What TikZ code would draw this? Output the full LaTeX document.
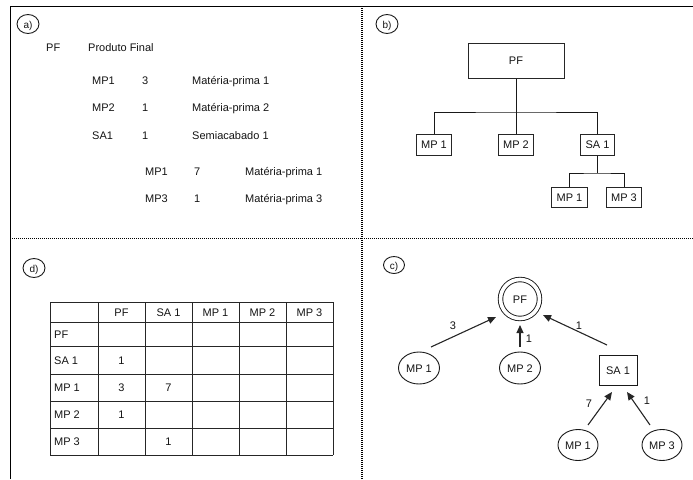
\documentclass[tikz,border=0pt]{standalone}
\usepackage{fontspec}
\setmainfont{Liberation Sans}
\usetikzlibrary{arrows.meta,shapes.geometric}
\begin{document}
\begin{tikzpicture}[x=1pt,y=-1pt,
  every node/.style={inner sep=0pt, text height=8pt, text depth=0pt,
    font=\fontsize{11}{13}\selectfont, text=black!92},
  txt/.style={anchor=west},
  lbl/.style={ellipse, draw=black!90, line width=0.9pt, minimum width=22pt, minimum height=19pt,
    font=\fontsize{10}{12}\selectfont},
  bbox/.style={draw=black!85, line width=1pt, minimum height=21pt, inner xsep=5pt},
  tline/.style={draw=black!90, line width=1pt},
  ell/.style={ellipse, draw=black!90, line width=0.9pt, minimum width=41pt, minimum height=32pt},
  arr/.style={-{Triangle[length=8pt,width=7pt]}, line width=1.1pt, draw=black!85},
  dots/.style={draw=black, line width=1.2pt, dash pattern=on 1pt off 1pt},
  grid/.style={draw=black!85, line width=1pt}]
\useasboundingbox (0,0) rectangle (693,479);
% frame
\draw[line width=1pt] (10,479) -- (10,6) -- (693,6);
\draw[dots] (10,238.5) -- (693,238.5);
\draw[dots] (362,6) -- (362,479);
% labels
\node[lbl] (la) at (28,24) {a)};
\node[lbl] (lb) at (387,24) {b)};
\node[lbl] (ld) at (34,268) {d)};
\node[lbl, minimum width=21pt, minimum height=17pt] (lc) at (394,265) {c)};
% panel a
\node[txt] (a-pf) at (46,47) {PF};
\node[txt] (a-pfd) at (88,47) {Produto Final};
\node[txt] (a-mp1) at (92,80) {MP1};
\node[txt] (a-q1) at (142,80) {3};
\node[txt] (a-d1) at (192,80) {Matéria-prima 1};
\node[txt] (a-mp2) at (92,107.5) {MP2};
\node[txt] (a-q2) at (142,107.5) {1};
\node[txt] (a-d2) at (192,107.5) {Matéria-prima 2};
\node[txt] (a-sa1) at (92,135) {SA1};
\node[txt] (a-q3) at (142,135) {1};
\node[txt] (a-d3) at (192,135) {Semiacabado 1};
\node[txt] (a-mp1s) at (145,171) {MP1};
\node[txt] (a-q4) at (194,171) {7};
\node[txt] (a-d4) at (245,171) {Matéria-prima 1};
\node[txt] (a-mp3s) at (145,198) {MP3};
\node[txt] (a-q5) at (194,198) {1};
\node[txt] (a-d5) at (245,198) {Matéria-prima 3};
% panel b
\node[bbox, minimum width=96pt, minimum height=35pt] (b-pf) at (516,60.5) {PF};
\node[bbox] (b-mp1) at (434,144.5) {MP 1};
\node[bbox] (b-mp2) at (516,144.5) {MP 2};
\node[bbox] (b-sa1) at (597.5,144.5) {SA 1};
\node[bbox, minimum height=20pt] (b-mp1s) at (569.5,197) {MP 1};
\node[bbox, minimum height=20pt] (b-mp3s) at (624,197) {MP 3};
\coordinate (b-bus) at (516,112);
\coordinate (b-bus2) at (597.5,173);
\draw[tline] (b-pf.south) -- (b-bus);
\draw[tline] (b-mp1.north) |- (b-bus) -| (b-sa1.north);
\draw[tline] (b-bus) -- (b-mp2.north);
\draw[tline] (b-sa1.south) -- (b-bus2);
\draw[tline] (b-mp1s.north) |- (b-bus2) -| (b-mp3s.north);
% panel d table
\foreach \yy in {302,322,346,374,401,428,455} \draw[grid] (50,\yy) -- (333,\yy);
\foreach \xx in {50,98,145,192,239,286,333} \draw[grid] (\xx,302) -- (\xx,455);
\node (d-h1) at (121.5,312) {PF};
\node (d-h2) at (168.5,312) {SA 1};
\node (d-h3) at (215.5,312) {MP 1};
\node (d-h4) at (262.5,312) {MP 2};
\node (d-h5) at (309.5,312) {MP 3};
\node[txt] (d-r1) at (54,334) {PF};
\node[txt] (d-r2) at (54,360) {SA 1};
\node[txt] (d-r3) at (54,387.5) {MP 1};
\node[txt] (d-r4) at (54,414.5) {MP 2};
\node[txt] (d-r5) at (54,441.5) {MP 3};
\node (d-v1) at (121.5,360) {1};
\node (d-v2) at (121.5,387.5) {3};
\node (d-v3) at (168.5,387.5) {7};
\node (d-v4) at (121.5,414.5) {1};
\node (d-v5) at (168.5,441.5) {1};
% panel c
\node[circle, draw=black!90, line width=0.9pt, double, double distance=3.6pt, minimum size=39pt] (c-pf) at (520,299) {PF};
\node[ell] (c-mp1) at (419,368) {MP 1};
\node[ell] (c-mp2) at (520,368) {MP 2};
\node[draw=black!90, line width=1pt, minimum width=38pt, minimum height=30pt] (c-sa1) at (618,370) {SA 1};
\node[ell, minimum width=40pt, minimum height=31pt] (c-mp1s) at (578,445) {MP 1};
\node[ell, minimum width=40pt, minimum height=31pt] (c-mp3s) at (662,445) {MP 3};
\draw[arr] ([shift={(12,-21)}]c-mp1.center) -- ([shift={(-24,18)}]c-pf.center);
\draw[arr] ([shift={(0,-21)}]c-mp2.center) -- ([shift={(0,26)}]c-pf.center);
\draw[arr] ([shift={(-11,-25)}]c-sa1.center) -- ([shift={(23,16)}]c-pf.center);
\draw[arr] ([shift={(10,-20)}]c-mp1s.center) -- ([shift={(-6,22)}]c-sa1.center);
\draw[arr] ([shift={(-12,-20)}]c-mp3s.center) -- ([shift={(9,22)}]c-sa1.center);
\node (c-l1) at (453,325) {3};
\node (c-l2) at (529,338) {1};
\node (c-l3) at (579,325) {1};
\node (c-l4) at (589,403) {7};
\node (c-l5) at (647,400) {1};
\end{tikzpicture}
\end{document}
